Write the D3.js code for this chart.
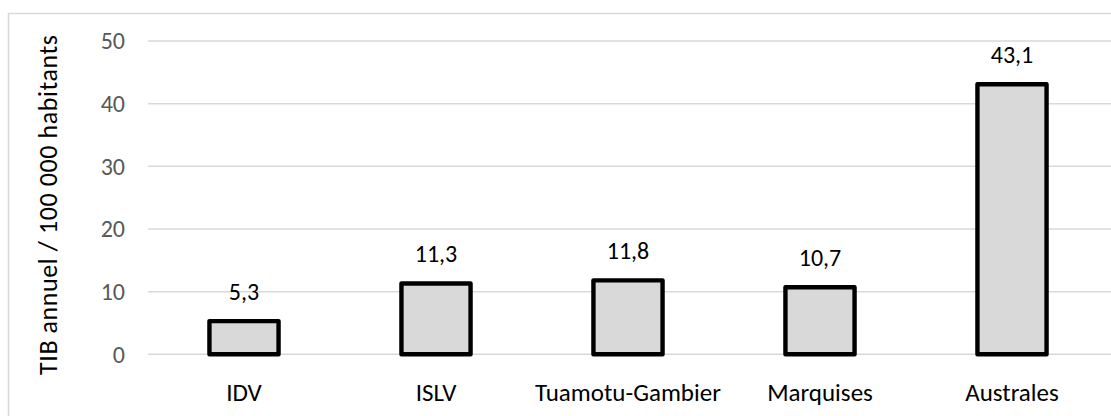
<!DOCTYPE html>
<meta charset="utf-8">
<style>
body { margin: 0; background: #fff; }
svg text { font-family: Carlito, Calibri, Lato, sans-serif; }
.grid line { stroke: #d9d9d9; stroke-width: 1.5; }
.tick-label { font-size: 24px; fill: #595959; }
.cat-label { font-size: 25px; fill: #000; }
.val-label { font-size: 24px; fill: #000; }
.y-title { font-size: 26px; fill: #000; }
</style>
<svg id="plot" width="1111" height="416"></svg>
<script src="https://d3js.org/d3.v7.min.js"></script>
<script>

// data
var regions = ["IDV", "ISLV", "Tuamotu-Gambier", "Marquises", "Australes"];
var tib = [5.3, 11.3, 11.8, 10.7, 43.1];
var yTicks = [0, 10, 20, 30, 40, 50];
var yTitle = "TIB annuel / 100 000 habitants";

var svg = d3.select("svg");

var x = d3.scaleBand()
    .domain(regions)
    .range([148, 1108])
    .paddingInner(0.64)
    .paddingOuter(0.32);

var y = d3.scaleLinear()
    .domain([0, 50])
    .range([354.3, 41]);

var fmt = function(v) { return String(v).replace(".", ","); };

// chart frame
svg.append("rect")
    .attr("x", 8.5).attr("y", 13.5)
    .attr("width", 1120).attr("height", 420)
    .attr("fill", "none")
    .attr("stroke", "#d9d9d9")
    .attr("stroke-width", 1.5);

// gridlines
svg.append("g")
    .attr("class", "grid")
  .selectAll("line")
  .data(yTicks)
  .enter().append("line")
    .attr("x1", 148).attr("x2", 1111)
    .attr("y1", function(d) { return y(d); })
    .attr("y2", function(d) { return y(d); });

// y tick labels
svg.append("g").selectAll("text")
  .data(yTicks)
  .enter().append("text")
    .attr("class", "tick-label")
    .attr("x", 125)
    .attr("y", function(d) { return y(d); })
    .attr("dy", "0.35em")
    .attr("text-anchor", "end")
    .text(function(d) { return d; });

// y title
svg.append("text")
    .attr("class", "y-title")
    .attr("transform", "translate(57,205) rotate(-90)")
    .attr("text-anchor", "middle")
    .attr("textLength", 340)
    .attr("lengthAdjust", "spacing")
    .text(yTitle);

var data = regions.map(function(r, i) { return {region: r, value: tib[i]}; });

// bars
svg.append("g").selectAll("rect")
  .data(data)
  .enter().append("rect")
    .attr("x", function(d) { return x(d.region); })
    .attr("y", function(d) { return y(d.value); })
    .attr("width", x.bandwidth())
    .attr("height", function(d) { return y(0) - y(d.value); })
    .attr("fill", "#d9d9d9")
    .attr("stroke", "#000")
    .attr("stroke-width", 4.4)
    .attr("stroke-linejoin", "round");

// value labels
svg.append("g").selectAll("text")
  .data(data)
  .enter().append("text")
    .attr("class", "val-label")
    .attr("x", function(d) { return x(d.region) + x.bandwidth() / 2; })
    .attr("y", function(d) { return y(d.value) - 21; })
    .attr("text-anchor", "middle")
    .text(function(d) { return fmt(d.value); });

// category labels
svg.append("g").selectAll("text")
  .data(data)
  .enter().append("text")
    .attr("class", "cat-label")
    .attr("x", function(d) { return x(d.region) + x.bandwidth() / 2; })
    .attr("y", 401)
    .attr("text-anchor", "middle")
    .text(function(d) { return d.region; });

</script>
